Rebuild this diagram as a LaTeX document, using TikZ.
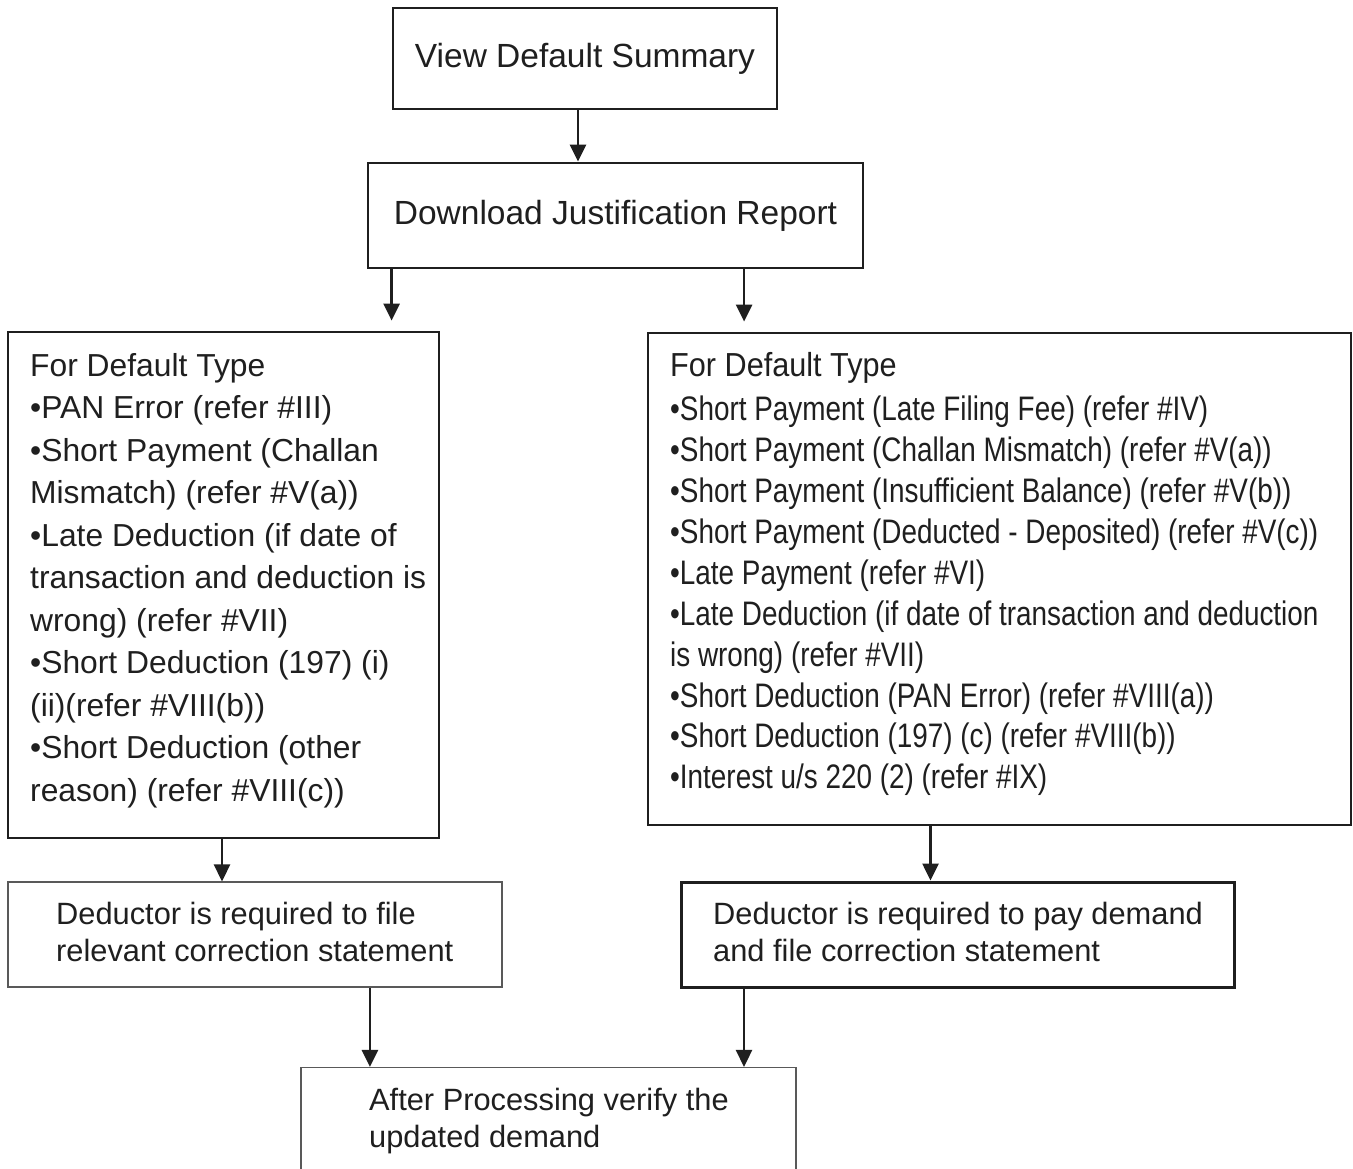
\documentclass[tikz,border=0pt]{standalone}
\usepackage{fontspec}
\setmainfont{Liberation Sans}
\newfontfamily\headnarrow{Liberation Sans}[FakeStretch=0.92]
\newfontfamily\itemnarrow{Liberation Sans}[FakeStretch=0.82]
\usetikzlibrary{arrows.meta,calc}

\tikzset{
  heavybox/.style={draw=black!88, line width=2.8pt, inner sep=0pt, fill=none},
  lightbox/.style={draw=black!65, line width=1.1pt, inner sep=0pt, fill=none},
  flow/.style={draw=black!88, line width=2.6pt, -{Triangle[length=17pt,width=16pt]}},
  txt/.style={inner sep=0pt, align=left, text=black!88},
}

\begin{document}
\begin{tikzpicture}[x=1pt, y=-1pt]
\useasboundingbox (0,0) rectangle (1353,1169);
\clip (0,0) rectangle (1353,1169);
\fill[white] (0,0) rectangle (1353,1169);

% top of the chart
\node[heavybox, minimum width=384pt, minimum height=101pt,
      font=\fontsize{33.5}{40}\selectfont, text=black!88] (view) at (585,58.5)
      {View Default Summary};
\node[heavybox, minimum width=495pt, minimum height=105pt,
      font=\fontsize{33.5}{40}\selectfont, text=black!88] (report) at (615.5,215.5)
      {Download Justification Report};

% the two lists of default types
\node[heavybox, minimum width=431pt, minimum height=506pt] (leftlist) at (223.5,585) {};
\node[heavybox, minimum width=703pt, minimum height=492pt] (rightlist) at (999.5,579) {};

\node[txt, anchor=north west, font=\fontsize{31.8}{42.5}\selectfont] (lefttext) at (30,346.25)
  {\strut For Default Type\\
   •PAN Error (refer \#III)\\
   •Short Payment (Challan\\
   Mismatch) (refer \#V(a))\\
   •Late Deduction (if date of\\
   transaction and deduction is\\
   wrong) (refer \#VII)\\
   •Short Deduction (197) (i)\\
   (ii)(refer \#VIII(b))\\
   •Short Deduction (other\\
   reason) (refer \#VIII(c))};

\node[txt, anchor=base west, font=\headnarrow\fontsize{33.3}{40}\selectfont] (righthead) at (670,376)
  {For Default Type};
\node[txt, anchor=north west, font=\itemnarrow\fontsize{34}{40.9}\selectfont] (righttext) at (670,391.9)
  {\strut •Short Payment (Late Filing Fee) (refer \#IV)\\
   •Short Payment (Challan Mismatch) (refer \#V(a))\\
   •Short Payment (Insufficient Balance) (refer \#V(b))\\
   •Short Payment (Deducted - Deposited) (refer \#V(c))\\
   •Late Payment (refer \#VI)\\
   •Late Deduction (if date of transaction and deduction\\
   is wrong) (refer \#VII)\\
   •Short Deduction (PAN Error) (refer \#VIII(a))\\
   •Short Deduction (197) (c) (refer \#VIII(b))\\
   •Interest u/s 220 (2) (refer \#IX)};

% required actions
\node[lightbox, minimum width=494pt, minimum height=105pt] (fileonly) at (255,934.5) {};
\node[txt, anchor=north west, font=\fontsize{30.8}{37}\selectfont] (fileonlytext) at (56,898.1)
  {\strut Deductor is required to file\\
   relevant correction statement};

\node[heavybox, line width=3pt, minimum width=553pt, minimum height=105pt] (payfile) at (957.5,934.5) {};
\node[txt, anchor=north west, font=\fontsize{30.8}{37}\selectfont] (payfiletext) at (713,898.1)
  {\strut Deductor is required to pay demand\\
   and file correction statement};

% final check
\node[lightbox, minimum width=495pt, minimum height=160pt] (verify) at (548.5,1147.5) {};
\node[txt, anchor=north west, font=\fontsize{30.8}{37}\selectfont] (verifytext) at (369,1084.1)
  {\strut After Processing verify the\\
   updated demand};

% connectors
\draw[flow] ([xshift=-7pt]view.south) -- ([xshift=-7pt]view.south |- report.north);
\draw[flow] ([xshift=25pt]report.south west) -- ([xshift=25pt,yshift=10pt]report.south west |- leftlist.north);
\draw[flow] ([xshift=377.5pt]report.south west) -- ([xshift=377.5pt,yshift=10pt]report.south west |- rightlist.north);
\draw[flow] ([xshift=-1.5pt]leftlist.south) -- ([xshift=-1.5pt]leftlist.south |- fileonly.north);
\draw[flow] ([xshift=-69pt]rightlist.south) -- ([xshift=-69pt]rightlist.south |- payfile.north);
\draw[flow] ([xshift=362.5pt]fileonly.south west) -- ([xshift=362.5pt]fileonly.south west |- verify.north);
\draw[flow] ([xshift=64.5pt]payfile.south west) -- ([xshift=64.5pt]payfile.south west |- verify.north);
\end{tikzpicture}
\end{document}
